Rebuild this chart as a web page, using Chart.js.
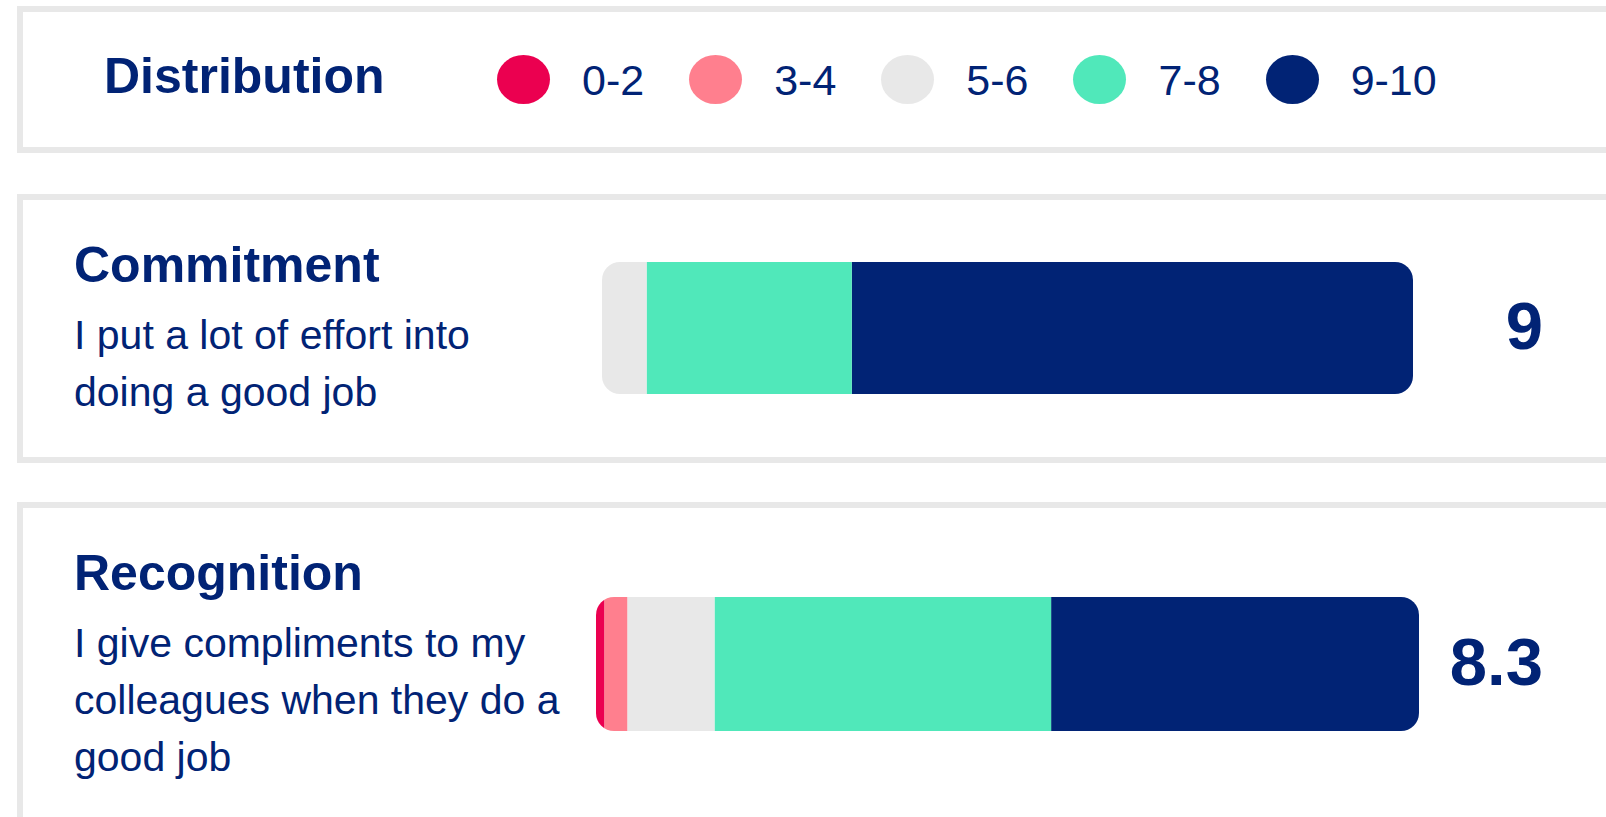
<!DOCTYPE html>
<html>
<head>
<meta charset="utf-8">
<script src="https://cdn.jsdelivr.net/npm/chart.js@4.4.0/dist/chart.umd.min.js"></script>
<style>
  html, body { margin: 0; padding: 0; background: #fff; }
  body { width: 1606px; height: 817px; overflow: hidden; position: relative;
         font-family: "Liberation Sans", Arial, sans-serif; color: #012375; }
  .card { position: absolute; left: 17px; width: 1700px; border: 6px solid #e8e8e8; box-sizing: border-box; }
  .abs { position: absolute; white-space: nowrap; line-height: 1; }
  #legendTitle { left: 104px; top: 51px; font-size: 50px; font-weight: bold; }
  #legend { position: absolute; left: 497px; top: 55px; height: 49px; display: flex; align-items: center; }
  .item { display: flex; align-items: center; margin-right: 45px; }
  .dot { width: 53px; height: 49px; border-radius: 50%; margin-right: 32px; }
  .item span { font-size: 43px; line-height: 1; padding-top: 2px; }
  .title { font-size: 50px; font-weight: bold; }
  .desc { position: absolute; font-size: 41px; line-height: 57px; width: 497px; }
  .bar { position: absolute; }
  .score { font-size: 67px; font-weight: bold; right: 63px; }
</style>
</head>
<body>

<div class="card" style="top:6px; height:147px;"></div>
<div class="abs" id="legendTitle">Distribution</div>
<div id="legend"></div>

<script>
// data -------------------------------------------------------------
const categories = ['0-2', '3-4', '5-6', '7-8', '9-10'];
const colors = ['#eb0050', '#ff7f8e', '#e8e8e8', '#50e8ba', '#012375'];

const titles = ['Commitment', 'Recognition'];
const descriptions = [
  'I put a lot of effort into doing a good job',
  'I give compliments to my colleagues when they do a good job'
];
const scores = ['9', '8.3'];

// share of answers per range, in %
const commitmentValues = [0, 0, 5.5, 25.3, 69.2];
const recognitionValues = [1, 2.8, 10.6, 40.9, 44.7];
const rowValues = [commitmentValues, recognitionValues];

// layout of the bar in each card
const barSpan = [
  { left: 602, width: 811, height: 132 },
  { left: 596, width: 823, height: 134 }
];

// legend ----------------------------------------------------------
var legend = document.getElementById('legend');
for (let i = 0; i < categories.length; i++) {
    let item = document.createElement('div');
    item.className = 'item';
    item.innerHTML = '<div class="dot" style="background:' + colors[i] + '"></div><span>' + categories[i] + '</span>';
    legend.appendChild(item);
}

// clip the whole stacked bar to one rounded rectangle
const roundedBar = {
    id: 'roundedBar',
    beforeDatasetsDraw(chart) {
        const a = chart.chartArea;
        const ctx = chart.ctx;
        ctx.save();
        ctx.beginPath();
        ctx.roundRect(a.left, a.top, a.right - a.left, a.bottom - a.top, 18);
        ctx.clip();
    },
    afterDatasetsDraw(chart) {
        chart.ctx.restore();
    }
};

// cards -----------------------------------------------------------
var cardTop = 194;
for (let row = 0; row < titles.length; row++) {
    const T = cardTop;

    let title = document.createElement('div');
    title.className = 'abs title';
    title.style.left = '74px';
    title.style.top = (T + 46) + 'px';
    title.textContent = titles[row];
    document.body.appendChild(title);

    let desc = document.createElement('div');
    desc.className = 'desc';
    desc.style.left = '74px';
    desc.style.top = (T + 113) + 'px';
    desc.textContent = descriptions[row];
    document.body.appendChild(desc);

    let lines = Math.round(desc.offsetHeight / 57);
    let cardH = 269 + 57 * (lines - 2);

    let card = document.createElement('div');
    card.className = 'card';
    card.style.top = T + 'px';
    card.style.height = cardH + 'px';
    document.body.insertBefore(card, document.body.firstChild);

    const span = barSpan[row];
    let center = T + cardH / 2 - 1;

    let wrap = document.createElement('div');
    wrap.className = 'bar';
    wrap.style.left = span.left + 'px';
    wrap.style.top = (center - span.height / 2) + 'px';
    wrap.style.width = span.width + 'px';
    wrap.style.height = span.height + 'px';
    let canvas = document.createElement('canvas');
    wrap.appendChild(canvas);
    document.body.appendChild(wrap);

    let score = document.createElement('div');
    score.className = 'abs score';
    score.style.top = (center + 21 - 57) + 'px';
    score.textContent = scores[row];
    document.body.appendChild(score);

    const values = rowValues[row];
    const total = values.reduce((a, b) => a + b, 0);

    new Chart(canvas, {
        type: 'bar',
        data: {
            labels: [titles[row]],
            datasets: categories.map((c, i) => ({
                label: c,
                data: [values[i]],
                backgroundColor: colors[i],
                borderWidth: 0,
                borderRadius: 0,
                inflateAmount: 0,
                barPercentage: 1,
                categoryPercentage: 1
            }))
        },
        options: {
            indexAxis: 'y',
            responsive: true,
            maintainAspectRatio: false,
            animation: false,
            layout: { padding: 0 },
            plugins: { legend: { display: false }, tooltip: { enabled: false } },
            scales: {
                x: { stacked: true, min: 0, max: total, display: false },
                y: { stacked: true, display: false }
            }
        },
        plugins: [roundedBar]
    });

    cardTop = T + 308;
}
</script>
</body>
</html>
